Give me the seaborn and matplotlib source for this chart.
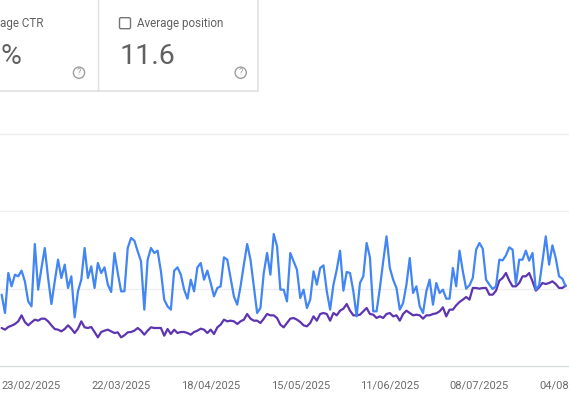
import matplotlib
matplotlib.use("Agg")
import matplotlib.pyplot as plt
import matplotlib.dates as mdates
from matplotlib.patches import Circle, FancyBboxPatch
from matplotlib.lines import Line2D
from matplotlib.transforms import IdentityTransform
import numpy as np
import pandas as pd
import seaborn as sns

# ---------------- data ----------------
start_date = "2025-02-14"

clicks = [
    214, 159, 279, 239, 274, 269, 286, 254, 194, 179,
    366, 229, 294, 354, 264, 186, 254, 319, 264, 304,
    234, 269, 146, 224, 259, 354, 264, 299, 234, 309,
    279, 296, 244, 222, 339, 279, 224, 224, 354, 384,
    376, 344, 314, 169, 319, 354, 339, 346, 284, 199,
    179, 169, 286, 296, 274, 229, 202, 259, 224, 296,
    309, 259, 286, 249, 209, 234, 239, 326, 319, 264,
    209, 184, 239, 304, 366, 319, 239, 159, 174, 279,
    339, 274, 396, 359, 229, 229, 194, 339, 314, 289,
    204, 229, 174, 199, 284, 244, 294, 302, 224, 169,
    244, 289, 346, 226, 282, 279, 224, 149, 249, 269,
    369, 326, 164, 164, 234, 314, 389, 294, 259, 234,
    169, 189, 244, 324, 219, 239, 179, 159, 224, 259,
    184, 249, 219, 229, 202, 202, 294, 239, 346, 284,
    232, 242, 264, 349, 369, 352, 259, 244, 231, 239,
    319, 317, 332, 356, 349, 246, 319, 319, 346, 316,
    339, 229, 242, 314, 389, 304, 362, 324, 269, 262,
    239,
]

impressions = [
    114, 109, 117, 121, 126, 134, 152, 132, 122, 131,
    139, 136, 142, 142, 134, 122, 111, 109, 104, 111,
    122, 112, 99, 112, 134, 116, 114, 117, 102, 86,
    102, 106, 109, 104, 99, 101, 86, 92, 101, 102,
    106, 114, 106, 94, 106, 116, 114, 114, 114, 91,
    111, 96, 109, 99, 102, 102, 99, 94, 102, 106,
    112, 109, 99, 109, 96, 116, 124, 139, 134, 136,
    134, 126, 134, 139, 156, 142, 136, 136, 129, 142,
    156, 152, 152, 144, 124, 116, 129, 142, 144, 139,
    132, 122, 119, 129, 149, 136, 156, 159, 156, 136,
    159, 152, 166, 172, 186, 166, 152, 152, 154, 164,
    174, 156, 154, 144, 149, 144, 156, 159, 149, 152,
    136, 156, 166, 159, 152, 154, 152, 142, 152, 152,
    156, 158, 164, 176, 149, 169, 169, 182, 192, 199,
    207, 199, 234, 234, 232, 234, 234, 214, 214, 226,
    256, 264, 279, 256, 239, 239, 249, 269, 269, 279,
    254, 226, 236, 249, 246, 249, 254, 246, 234, 234,
    242,
]

tick_dates = ["2025-02-23", "2025-03-22", "2025-04-18", "2025-05-15",
              "2025-06-11", "2025-07-08", "2025-08-04"]
tick_labels = ["23/02/2025", "22/03/2025", "18/04/2025", "15/05/2025",
               "11/06/2025", "08/07/2025", "04/08/2025"]
grid_values = [232, 464, 696]

card_titles = ["age CTR", "Average position"]
card_values = ["%", "11.6"]

# ---------------- style ----------------
sns.set_theme(style="white")
plt.rcParams["font.family"] = ["Roboto", "DejaVu Sans"]

W, H = 569, 400
fig = plt.figure(figsize=(W / 100, H / 100), dpi=100)
fig.patch.set_facecolor("white")

def fy(py):
    return 1 - py / H

# ---------------- chart ----------------
ax = fig.add_axes([0, fy(366), 1, (366 - 100) / H])
ax.set_facecolor("white")

dates = pd.date_range(start_date, periods=len(clicks), freq="D")
df = pd.DataFrame({"date": dates, "Clicks": clicks, "Impressions": impressions})

sns.lineplot(data=df, x="date", y="Impressions", color="#5e35b1", lw=1.6, ax=ax)
sns.lineplot(data=df, x="date", y="Clicks", color="#4285f4", lw=1.6, ax=ax)

px_per_day = 90 / 27
left = pd.Timestamp(start_date) - pd.Timedelta(hours=12)
right = left + pd.Timedelta(days=W / px_per_day)
ax.set_xlim(left, right)
ax.set_ylim(0, 798)

ax.set_yticks(grid_values)
ax.set_yticklabels([])
ax.yaxis.grid(True, color="#eeeeee", lw=1)
ax.xaxis.grid(False)

ax.set_xticks(pd.to_datetime(tick_dates))
ax.set_xticklabels(tick_labels, fontsize=8, color="#6b6b6b")
ax.tick_params(axis="both", length=0)
ax.tick_params(axis="x", pad=10.5)
ax.set_xlabel("")
ax.set_ylabel("")
for s in ["top", "left", "right"]:
    ax.spines[s].set_visible(False)
ax.spines["bottom"].set_color("#dadce0")
ax.spines["bottom"].set_linewidth(1)

# ---------------- metric cards ----------------
idt = IdentityTransform()
border = "#e0e0e0"

def Y(py):
    return H - py

fig.add_artist(Line2D([97.7, 97.7], [Y(0), Y(90.7)], transform=idt, color=border, lw=1))
fig.add_artist(Line2D([257.7, 257.7], [Y(0), Y(90.7)], transform=idt, color=border, lw=1.2))
fig.add_artist(Line2D([0, 257.7], [Y(90.7), Y(90.7)], transform=idt, color=border, lw=1.2))

title_col = "#616161"
value_col = "#616161"

fig.text(-0.5, Y(23), card_titles[0], transform=idt, ha="left", va="center",
         fontsize=8.4, color=title_col)
fig.text(0.3, Y(64), card_values[0], transform=idt, ha="left", va="baseline",
         fontsize=20.5, color=value_col)

fig.add_artist(FancyBboxPatch((119.5, Y(28.7)), 11, 11, transform=idt,
                              boxstyle="round,pad=0,rounding_size=1.5",
                              fc="white", ec="#757575", lw=1))
fig.text(136.7, Y(23), card_titles[1], transform=idt, ha="left", va="center",
         fontsize=8.4, color=title_col)
fig.text(119.5, Y(64), card_values[1], transform=idt, ha="left", va="baseline",
         fontsize=20.5, color=value_col)

for cx in [79.0, 240.7]:
    fig.add_artist(Circle((cx, Y(72.7)), 5.6, transform=idt, fc="none",
                          ec="#9e9e9e", lw=1))
    fig.text(cx, Y(72.7), "?", transform=idt, ha="center", va="center",
             fontsize=6.5, color="#9e9e9e")

fig.savefig("out.png", dpi=100)
